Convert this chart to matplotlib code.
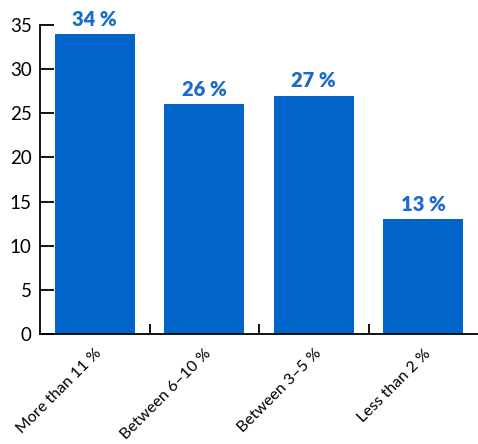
import matplotlib
matplotlib.use("Agg")
import matplotlib.pyplot as plt

categories = ["More than 11 %", "Between 6\u201310 %", "Between 3\u20135 %", "Less than 2 %"]
values = [34, 26, 27, 13]
bar_labels = ["34 %", "26 %", "27 %", "13 %"]

plt.rcParams['font.family'] = ['Lato', 'DejaVu Sans']
blue = '#0064c8'

fig = plt.figure(figsize=(4.78, 4.44), dpi=100)
ax = fig.add_axes([40 / 478, 110 / 444, 1 - 40 / 478, 309 / 444])

x = range(len(categories))
ax.bar(x, values, width=0.727, color=blue)
for i, v in enumerate(values):
    ax.text(i, v + 0.6, bar_labels[i], ha='center', va='bottom',
            fontsize=14.5, fontweight='heavy', color='#1a6ccc')

ax.set_xlim(-0.5, 3.5)
ax.set_ylim(0, 35)
ax.set_yticks(range(0, 36, 5))
ax.set_xticks(list(x))
ax.set_xticklabels(categories, rotation=45, ha='right', rotation_mode='anchor', fontsize=11.5)
ax.set_xticks([0.5, 1.5, 2.5], minor=True)
ax.tick_params(axis='x', which='major', length=0, pad=9)
ax.tick_params(axis='x', which='minor', direction='in', length=7, width=1.3)
ax.tick_params(axis='y', direction='in', length=10, width=1.3, labelsize=13.5, pad=6)

for s in ['top', 'right']:
    ax.spines[s].set_visible(False)
for s in ['left', 'bottom']:
    ax.spines[s].set_linewidth(1.3)

fig.savefig('out.png', dpi=100)
